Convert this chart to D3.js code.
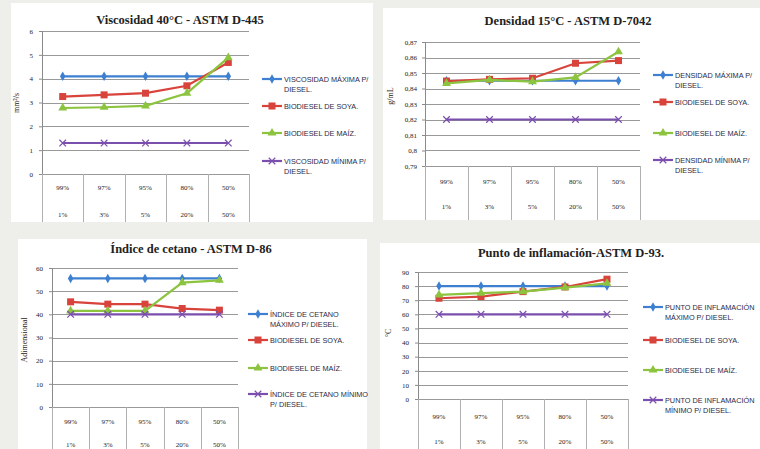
<!DOCTYPE html>
<html>
<head>
<meta charset="utf-8">
<script src="https://cdn.jsdelivr.net/npm/d3@7"></script>
<style>
  html, body { margin: 0; padding: 0; background: #eeeeea; }
  svg { display: block; }
  text { font-family: "Liberation Serif", "DejaVu Serif", serif; fill: #222; }
  .leg { font-family: "Liberation Sans", "DejaVu Sans", sans-serif; font-size: 7.3px; fill: #2a2a48; }
</style>
</head>
<body>
<svg id="chart" width="760" height="449"></svg>
<script>
// Mezclas diésel / biodiésel (dos niveles del eje de categorías)
const mezclaDiesel = ["99%", "97%", "95%", "80%", "50%"];
const mezclaBio = ["1%", "3%", "5%", "20%", "50%"];

// Viscosidad 40°C (mm²/s)
const viscMax = [4.1, 4.1, 4.1, 4.1, 4.1];
const viscSoya = [3.25, 3.32, 3.39, 3.70, 4.68];
const viscMaiz = [2.77, 2.80, 2.86, 3.39, 4.88];
const viscMin = [1.3, 1.3, 1.3, 1.3, 1.3];
const viscTicks = [0, 1, 2, 3, 4, 5, 6];

// Densidad 15°C (g/mL)
const densMax = [0.845, 0.845, 0.845, 0.845, 0.845];
const densSoya = [0.8448, 0.8459, 0.8466, 0.8563, 0.8580];
const densMaiz = [0.8433, 0.8455, 0.8444, 0.8472, 0.8637];
const densMin = [0.82, 0.82, 0.82, 0.82, 0.82];
const densTicks = [0.79, 0.80, 0.81, 0.82, 0.83, 0.84, 0.85, 0.86, 0.87];

// Índice de cetano (adimensional)
const cetMax = [55.5, 55.5, 55.5, 55.5, 55.5];
const cetSoya = [45.4, 44.4, 44.4, 42.5, 41.8];
const cetMaiz = [41.5, 41.5, 41.5, 53.7, 54.7];
const cetMin = [40, 40, 40, 40, 40];
const cetTicks = [0, 10, 20, 30, 40, 50, 60];

// Punto de inflamación (°C)
const flashMax = [80, 80, 80, 80, 80];
const flashSoya = [71.4, 72.6, 76.1, 79.4, 84.9];
const flashMaiz = [73.8, 75.0, 76.1, 78.9, 82.0];
const flashMin = [60, 60, 60, 60, 60];
const flashTicks = [0, 10, 20, 30, 40, 50, 60, 70, 80, 90];

const colors = { max: "#3d7fd0", soya: "#d8433b", maiz: "#8cc43f", min: "#7b4fae" };
const fmtComma = v => d3.format(".2~f")(v).replace(".", ",");

const svg = d3.select("#chart");
svg.append("rect").attr("width", 760).attr("height", 449).attr("fill", "#eeeeea");

function marker(g, type, x, y, color) {
  if (type === "diamond") {
    g.append("path").attr("d", d3.symbol(d3.symbolDiamond, 26)())
      .attr("transform", `translate(${x},${y})`).attr("fill", color);
  } else if (type === "square") {
    g.append("rect").attr("x", x - 3.5).attr("y", y - 3.5).attr("width", 7).attr("height", 7).attr("fill", color);
  } else if (type === "triangle") {
    g.append("path").attr("d", d3.symbol(d3.symbolTriangle, 34)())
      .attr("transform", `translate(${x},${y})`).attr("fill", color);
  } else {
    g.append("path").attr("d", d3.symbol(d3.symbolX, 30)())
      .attr("transform", `translate(${x},${y})`).attr("stroke", color).attr("stroke-width", 1.2).attr("fill", "none");
  }
}

function panel(cfg) {
  const g = svg.append("g");
  g.append("rect").attr("x", cfg.box[0]).attr("y", cfg.box[1]).attr("width", cfg.box[2]).attr("height", cfg.box[3]).attr("fill", "#fff");

  const x = d3.scaleBand().domain(d3.range(mezclaDiesel.length)).range([cfg.left, cfg.right]);
  const y = d3.scaleLinear().domain([cfg.ticks[0], cfg.ticks[cfg.ticks.length - 1]]).range([cfg.bottom, cfg.top]);

  // líneas de cuadrícula
  g.append("g").selectAll("line").data(cfg.ticks).join("line")
    .attr("x1", cfg.left).attr("x2", cfg.right)
    .attr("y1", d => Math.round(y(d)) + 0.5).attr("y2", d => Math.round(y(d)) + 0.5)
    .attr("stroke", "#999").attr("stroke-width", 1);

  // eje Y
  const ay = g.append("g").attr("transform", `translate(${cfg.left},0)`)
    .call(d3.axisLeft(y).tickValues(cfg.ticks).tickFormat(cfg.fmt).tickSize(3).tickPadding(cfg.pad));
  ay.select(".domain").attr("stroke", "#8a8a8a");
  ay.selectAll(".tick line").attr("stroke", "#8a8a8a");
  ay.selectAll("text").attr("font-size", 7).attr("font-family", "Liberation Serif").attr("fill", "#333");

  // separadores de categorías
  g.append("g").selectAll("line").data(d3.range(mezclaDiesel.length + 1)).join("line")
    .attr("x1", i => Math.round(cfg.left + i * x.bandwidth()) + 0.5)
    .attr("x2", i => Math.round(cfg.left + i * x.bandwidth()) + 0.5)
    .attr("y1", cfg.bottom).attr("y2", cfg.box[1] + cfg.box[3])
    .attr("stroke", "#b0b0b0");

  g.append("g").selectAll("text").data(mezclaDiesel).join("text")
    .attr("x", (d, i) => x(i) + x.bandwidth() / 2).attr("y", cfg.row1)
    .attr("text-anchor", "middle").attr("font-size", 7).attr("fill", "#333").text(d => d);
  g.append("g").selectAll("text").data(mezclaBio).join("text")
    .attr("x", (d, i) => x(i) + x.bandwidth() / 2).attr("y", cfg.row2)
    .attr("text-anchor", "middle").attr("font-size", 7).attr("fill", "#333").text(d => d);

  // series
  const line = d3.line().x((d, i) => x(i) + x.bandwidth() / 2).y(d => y(d));
  cfg.series.forEach(s => {
    g.append("path").datum(s.values).attr("d", line).attr("fill", "none")
      .attr("stroke", s.color).attr("stroke-width", 2.2);
    s.values.forEach((v, i) => marker(g, s.mark, x(i) + x.bandwidth() / 2, y(v), s.color));
  });

  // título
  g.append("text").attr("x", cfg.titleX).attr("y", cfg.titleY).attr("text-anchor", "middle")
    .attr("font-size", 12.5).attr("font-weight", "bold").attr("fill", "#111").text(cfg.title);

  // título del eje Y
  g.append("text").attr("transform", `translate(${cfg.ylabX},${cfg.ylabY}) rotate(-90)`)
    .attr("text-anchor", "middle").attr("font-size", 8).attr("fill", "#333").text(cfg.ylab);

  // leyenda
  cfg.series.forEach((s, k) => {
    const ly = cfg.legY[k];
    g.append("line").attr("x1", cfg.legX).attr("x2", cfg.legX + 20).attr("y1", ly).attr("y2", ly)
      .attr("stroke", s.color).attr("stroke-width", 2.2);
    marker(g, s.mark, cfg.legX + 10, ly, s.color);
    const t = g.append("text").attr("class", "leg").attr("x", cfg.legX + 22).attr("y", ly + 2.5);
    s.label.forEach((ln, j) => t.append("tspan").attr("x", cfg.legX + 22).attr("dy", j ? 10 : 0).text(ln));
  });
}

panel({
  box: [11, 3, 362, 219], left: 42, right: 249, top: 31, bottom: 174,
  ticks: viscTicks, fmt: d3.format("d"), pad: 6,
  row1: 190, row2: 217,
  title: "Viscosidad 40°C - ASTM D-445", titleX: 180, titleY: 24,
  ylab: "mm²/s", ylabX: 19, ylabY: 103,
  legX: 262, legY: [79, 106, 133, 161],
  series: [
    { values: viscMax, color: colors.max, mark: "diamond", label: ["VISCOSIDAD MÁXIMA P/", "DIESEL."] },
    { values: viscSoya, color: colors.soya, mark: "square", label: ["BIODIESEL DE SOYA."] },
    { values: viscMaiz, color: colors.maiz, mark: "triangle", label: ["BIODIESEL DE MAÍZ."] },
    { values: viscMin, color: colors.min, mark: "x", label: ["VISCOSIDAD MÍNIMA P/", "DIESEL."] }
  ]
});

panel({
  box: [383, 8, 377, 212], left: 425, right: 640, top: 42, bottom: 166,
  ticks: densTicks, fmt: fmtComma, pad: 5,
  row1: 184, row2: 209,
  title: "Densidad 15°C - ASTM D-7042", titleX: 568, titleY: 25,
  ylab: "g/mL", ylabX: 393, ylabY: 96,
  legX: 653, legY: [75, 102, 133, 160],
  series: [
    { values: densMax, color: colors.max, mark: "diamond", label: ["DENSIDAD MÁXIMA P/", "DIESEL."] },
    { values: densSoya, color: colors.soya, mark: "square", label: ["BIODIESEL DE SOYA."] },
    { values: densMaiz, color: colors.maiz, mark: "triangle", label: ["BIODIESEL DE MAÍZ."] },
    { values: densMin, color: colors.min, mark: "x", label: ["DENSIDAD MÍNIMA P/", "DIESEL."] }
  ]
});

panel({
  box: [18, 239, 349, 210], left: 52, right: 238, top: 268, bottom: 407,
  ticks: cetTicks, fmt: d3.format("d"), pad: 6,
  row1: 424, row2: 447,
  title: "Índice de cetano - ASTM D-86", titleX: 191, titleY: 253,
  ylab: "Adimensional", ylabX: 27, ylabY: 340,
  legX: 248, legY: [314, 340, 368, 394],
  series: [
    { values: cetMax, color: colors.max, mark: "diamond", label: ["ÍNDICE DE CETANO", "MÁXIMO P/ DIESEL."] },
    { values: cetSoya, color: colors.soya, mark: "square", label: ["BIODIESEL DE SOYA."] },
    { values: cetMaiz, color: colors.maiz, mark: "triangle", label: ["BIODIESEL DE MAÍZ."] },
    { values: cetMin, color: colors.min, mark: "x", label: ["ÍNDICE DE CETANO MÍNIMO", "P/ DIESEL."] }
  ]
});

panel({
  box: [380, 243, 380, 206], left: 418, right: 628, top: 272, bottom: 399,
  ticks: flashTicks, fmt: d3.format("d"), pad: 6,
  row1: 419, row2: 444,
  title: "Punto de inflamación-ASTM D-93.", titleX: 571, titleY: 257,
  ylab: "°C", ylabX: 391, ylabY: 333,
  legX: 643, legY: [307, 340, 370, 400],
  series: [
    { values: flashMax, color: colors.max, mark: "diamond", label: ["PUNTO DE INFLAMACIÓN", "MÁXIMO P/ DIESEL."] },
    { values: flashSoya, color: colors.soya, mark: "square", label: ["BIODIESEL DE SOYA."] },
    { values: flashMaiz, color: colors.maiz, mark: "triangle", label: ["BIODIESEL DE MAÍZ."] },
    { values: flashMin, color: colors.min, mark: "x", label: ["PUNTO DE INFLAMACIÓN", "MÍNIMO P/ DIESEL."] }
  ]
});
</script>
</body>
</html>
